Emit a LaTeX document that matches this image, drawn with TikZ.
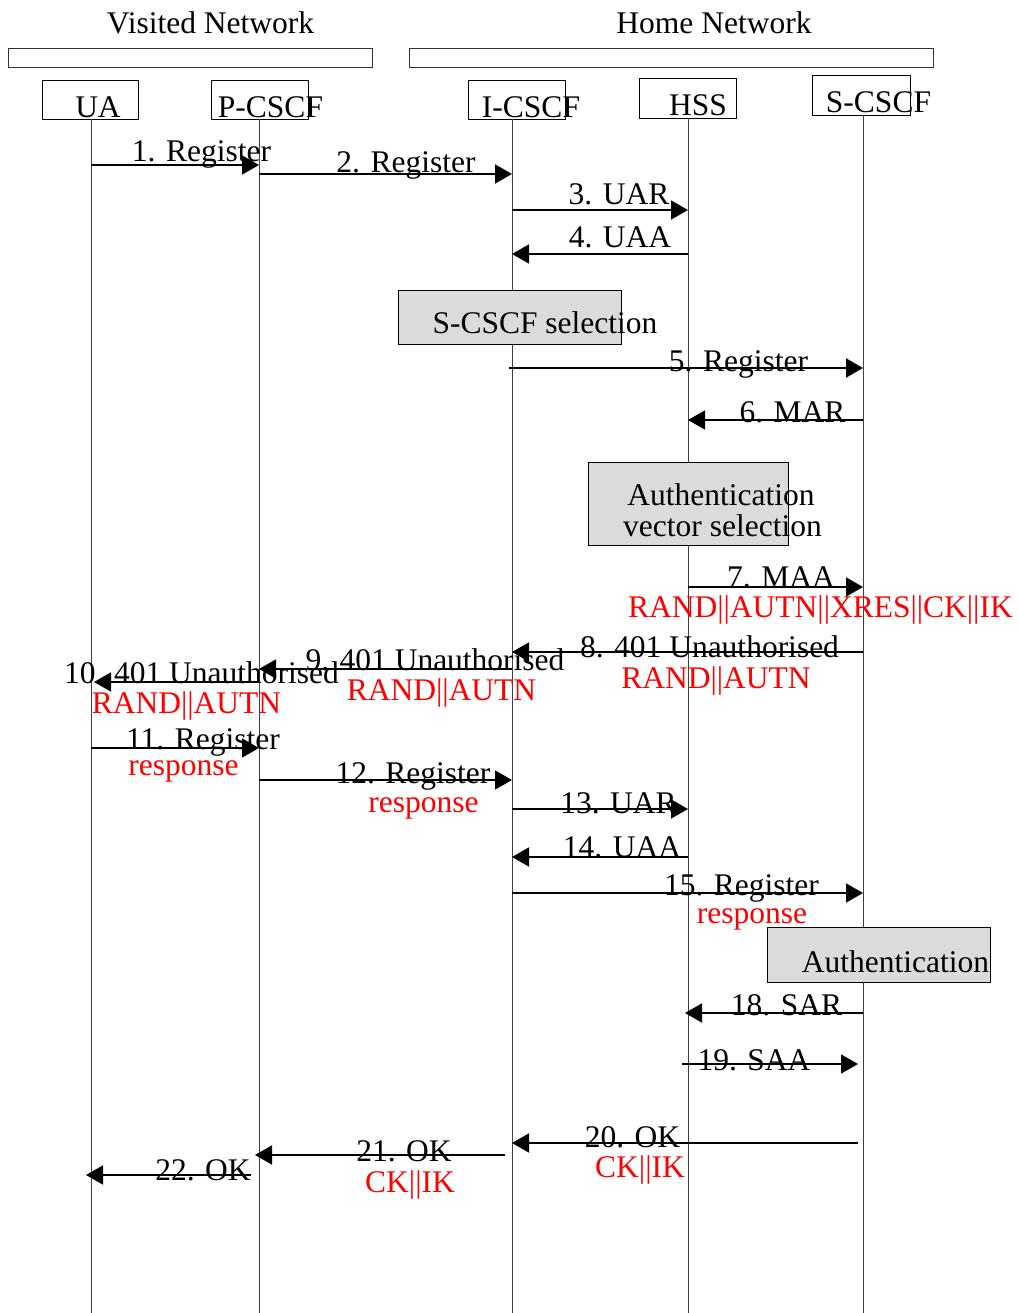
\documentclass[tikz,border=0pt]{standalone}
\usepackage{fontspec}
\setmainfont{Liberation Serif}
\usetikzlibrary{arrows.meta}
\begin{document}
\begin{tikzpicture}[x=1pt,y=-1pt,
  lbl/.style={anchor=base,inner sep=0pt,font=\fontsize{31.5}{31.5}\selectfont},
  redlbl/.style={lbl,text=red},
  entity/.style={draw,line width=1.2pt,inner sep=0pt,anchor=north west},
  netbar/.style={draw,line width=1pt,inner sep=0pt,anchor=north west,draw=black!80},
  procbox/.style={draw,line width=1.3pt,fill=black!14,inner sep=0pt,anchor=north west},
  lifeline/.style={line width=0.9pt,draw=black!75},
  msg/.style={line width=1.8pt,-{Triangle[length=17pt,width=19pt]}}]
\useasboundingbox (0,0) rectangle (1018,1313);

% network bars
\node[netbar,minimum width=364pt,minimum height=19pt] (vbar) at (8,48) {};
\node[netbar,minimum width=524pt,minimum height=19pt] (hbar) at (409,48) {};
\node[lbl] (vtxt) at (210.5,34) {Visited Network};
\node[lbl] (htxt) at (714,34) {Home Network};

% entity boxes
\node[entity,minimum width=96pt,minimum height=39pt] (ua) at (42,80) {};
\node[entity,minimum width=97pt,minimum height=39pt] (pc) at (211,80) {};
\node[entity,minimum width=97pt,minimum height=39pt] (ic) at (468,80) {};
\node[entity,minimum width=97pt,minimum height=40pt] (hss) at (639,78) {};
\node[entity,minimum width=98pt,minimum height=40pt] (sc) at (812,75) {};
\node[lbl] (uat) at (98,118) {UA};
\node[lbl] (pct) at (270.5,118) {P-CSCF};
\node[lbl] (ict) at (531,118) {I-CSCF};
\node[lbl] (hsst) at (698,116) {HSS};
\node[lbl] (sct) at (878.5,113) {S-CSCF};

% lifelines
\coordinate (L1) at (91,119);  \coordinate (B1) at (91,1313);
\coordinate (L2) at (259,119); \coordinate (B2) at (259,1313);
\coordinate (L3) at (512,119); \coordinate (B3) at (512,1313);
\coordinate (L4) at (688,118); \coordinate (B4) at (688,1313);
\coordinate (L5) at (863,115); \coordinate (B5) at (863,1313);
\draw[lifeline] (L1) -- (B1);
\draw[lifeline] (L2) -- (B2);
\draw[lifeline] (L3) -- (B3);
\draw[lifeline] (L4) -- (B4);
\draw[lifeline] (L5) -- (B5);

% process boxes
\node[procbox,minimum width=223pt,minimum height=54pt] (sel) at (398,290) {};
\node[lbl] (selt) at (545,333) {S-CSCF selection};
\node[procbox,minimum width=200pt,minimum height=83pt] (avs) at (588,462) {};
\node[lbl] (avs1) at (721,505) {Authentication};
\node[lbl] (avs2) at (722.5,536) {vector selection};
\node[procbox,minimum width=223pt,minimum height=55pt] (auth) at (767,927) {};
\node[lbl] (autht) at (895.5,972) {Authentication};

% messages
\node[lbl] (m1) at (201.5,162) {1. Register};
\draw[msg] (L1 |- 0,165) -- (L2 |- 0,165);
\node[lbl] (m2) at (406,173) {2. Register};
\draw[msg] (L2 |- 0,174) -- (L3 |- 0,174);
\node[lbl] (m3) at (619,205) {3. UAR};
\draw[msg] (L3 |- 0,210) -- (L4 |- 0,210);
\node[lbl] (m4) at (620,248) {4. UAA};
\draw[msg] (L4 |- 0,254) -- (L3 |- 0,254);
\node[lbl] (m5) at (738.5,371) {5. Register};
\draw[msg] ([xshift=-3pt]L3 |- 0,368) -- (L5 |- 0,368);
\node[lbl] (m6) at (792.5,422) {6. MAR};
\draw[msg] (L5 |- 0,420) -- (L4 |- 0,420);
\node[lbl] (m7) at (781,587) {7. MAA};
\node[redlbl] (m7r) at (820.5,617) {RAND||AUTN||XRES||CK||IK};
\draw[msg] (L4 |- 0,587) -- (L5 |- 0,587);
\node[lbl] (m8) at (709.5,657) {8. 401 Unauthorised};
\node[redlbl] (m8r) at (716,688) {RAND||AUTN};
\draw[msg] (L5 |- 0,652) -- (L3 |- 0,652);
\node[lbl] (m9) at (435,670) {9. 401 Unauthorised};
\node[redlbl] (m9r) at (441.5,700) {RAND||AUTN};
\draw[msg] (L3 |- 0,669) -- (L2 |- 0,669);
\node[lbl] (m10) at (201.5,683) {10. 401 Unauthorised};
\node[redlbl] (m10r) at (186.5,713) {RAND||AUTN};
\draw[msg] (L2 |- 0,682) -- ([xshift=3pt]L1 |- 0,682);
\node[lbl] (m11) at (203,749) {11. Register};
\node[redlbl] (m11r) at (183.5,775) {response};
\draw[msg] (L1 |- 0,748) -- (L2 |- 0,748);
\node[lbl] (m12) at (413,783) {12. Register};
\node[redlbl] (m12r) at (423.5,812) {response};
\draw[msg] (L2 |- 0,780) -- (L3 |- 0,780);
\node[lbl] (m13) at (618.5,813) {13. UAR};
\draw[msg] (L3 |- 0,809) -- (L4 |- 0,809);
\node[lbl] (m14) at (622,857) {14. UAA};
\draw[msg] (L4 |- 0,857) -- (L3 |- 0,857);
\node[lbl] (m15) at (741.5,895) {15. Register};
\node[redlbl] (m15r) at (752,923) {response};
\draw[msg] (L3 |- 0,893) -- (L5 |- 0,893);
\node[lbl] (m18) at (786.5,1015) {18. SAR};
\draw[msg] (L5 |- 0,1013) -- ([xshift=-3pt]L4 |- 0,1013);
\node[lbl] (m19) at (754,1070) {19. SAA};
\draw[msg] ([xshift=-6pt]L4 |- 0,1064) -- ([xshift=-5pt]L5 |- 0,1064);
\node[lbl] (m20) at (632.5,1147) {20. OK};
\node[redlbl] (m20r) at (640,1177) {CK||IK};
\draw[msg] ([xshift=-5pt]L5 |- 0,1143) -- (L3 |- 0,1143);
\node[lbl] (m21) at (404,1161) {21. OK};
\node[redlbl] (m21r) at (410,1192) {CK||IK};
\draw[msg] ([xshift=-7pt]L3 |- 0,1155) -- ([xshift=-4pt]L2 |- 0,1155);
\node[lbl] (m22) at (203,1180) {22. OK};
\draw[msg] ([xshift=-8pt]L2 |- 0,1175) -- ([xshift=-5pt]L1 |- 0,1175);
\end{tikzpicture}
\end{document}
